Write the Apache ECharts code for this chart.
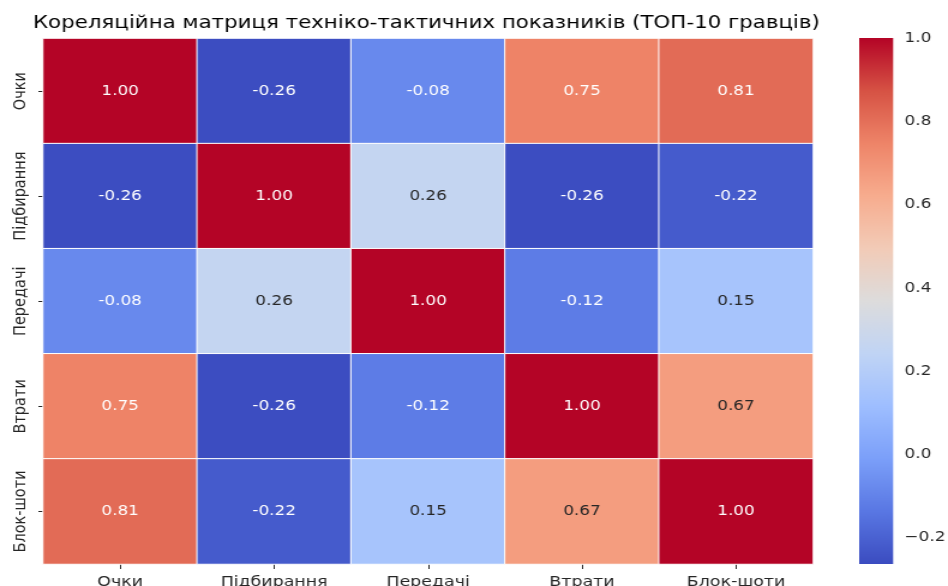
<!DOCTYPE html>
<html><head><meta charset="utf-8">
<script src="https://cdn.jsdelivr.net/npm/echarts@6/dist/echarts.min.js"></script>
<style>
html,body{margin:0;padding:0;background:#fff;overflow:hidden;}
#wrap{width:948px;height:586px;overflow:hidden;}
#chart{width:790px;height:586px;transform:scaleX(1.2);transform-origin:0 0;}
</style></head><body><div id="wrap"><div id="chart"></div></div>
<script>
// ---- data ----
const categories = ['Очки', 'Підбирання', 'Передачі', 'Втрати', 'Блок-шоти'];
const rowOchky      = [1.00, -0.26, -0.08, 0.75, 0.81];
const rowPidbyr     = [-0.26, 1.00, 0.26, -0.26, -0.22];
const rowPeredachi  = [-0.08, 0.26, 1.00, -0.12, 0.15];
const rowVtraty     = [0.75, -0.26, -0.12, 1.00, 0.67];
const rowBlokShoty  = [0.81, -0.22, 0.15, 0.67, 1.00];
const colorbarTicks = [-0.2, 0.0, 0.2, 0.4, 0.6, 0.8, 1.0];
const vmin = -0.263, vmax = 1.0;
const titleText = 'Кореляційна матриця техніко-тактичних показників (ТОП-10 гравців)';

const rows = [rowOchky, rowPidbyr, rowPeredachi, rowVtraty, rowBlokShoty];
const coolwarm = ['#3b4cc0','#5977e3','#7b9ff9','#9ebeff','#c0d4f5','#dddcdc','#f2cbb7','#f7ac8e','#ee8468','#d65244','#b40426'];

function hexToRgb(h){return [parseInt(h.substr(1,2),16),parseInt(h.substr(3,2),16),parseInt(h.substr(5,2),16)];}
function cmap(v){
  let t=(v-vmin)/(vmax-vmin); t=Math.max(0,Math.min(1,t));
  const p=t*(coolwarm.length-1); const i=Math.min(Math.floor(p),coolwarm.length-2); const f=p-i;
  const a=hexToRgb(coolwarm[i]), b=hexToRgb(coolwarm[i+1]);
  return a.map((c,k)=>c+(b[k]-c)*f);
}
function lum(rgb){
  const l=rgb.map(c=>{c/=255;return c<=0.03928?c/12.92:Math.pow((c+0.055)/1.055,2.4);});
  return 0.2126*l[0]+0.7152*l[1]+0.0722*l[2];
}
const heatData=[];
rows.forEach((r,y)=>r.forEach((v,x)=>{
  heatData.push({value:[x,y,v],label:{color: lum(cmap(v))>0.408?'#262626':'#ffffff'}});
}));
const fmtMinus=v=>{const s=(Math.round(v*10)/10).toFixed(1);return s.replace('-','\u2212');};

const chart=echarts.init(document.getElementById('chart'));
chart.setOption({
  animation:false,
  textStyle:{fontFamily:'DejaVu Sans'},
  title:{text:titleText,left:27.5,top:14,padding:0,textStyle:{fontSize:17.8,fontWeight:'normal',color:'#000',fontFamily:'DejaVu Sans'}},
  grid:[
    {left:36,width:641.5,top:38.5,bottom:22,containLabel:false,outerBoundsMode:'none'},
    {left:716,width:28.3,top:38,bottom:22,containLabel:false,outerBoundsMode:'none'}
  ],
  xAxis:[
    {type:'category',data:categories,gridIndex:0,position:'bottom',
     axisLine:{show:false},axisTick:{show:true,alignWithLabel:true,length:5,lineStyle:{color:'#262626'}},
     axisLabel:{margin:11,fontSize:14.5,color:'#262626',interval:0},splitLine:{show:false}},
    {type:'value',gridIndex:1,min:0,max:1,show:false}
  ],
  yAxis:[
    {type:'category',data:categories,gridIndex:0,inverse:true,
     axisLine:{show:false},axisTick:{show:true,alignWithLabel:true,length:4,lineStyle:{color:'#262626'}},
     axisLabel:{margin:11,fontSize:14.5,color:'#262626',rotate:90,interval:0},splitLine:{show:false}},
    {type:'value',gridIndex:1,min:vmin,max:vmax,position:'right',
     axisLine:{show:false},
     axisTick:{show:true,length:4,customValues:colorbarTicks,lineStyle:{color:'#262626'}},
     axisLabel:{margin:9.5,fontSize:14,color:'#262626',customValues:colorbarTicks,formatter:fmtMinus},
     splitLine:{show:false}}
  ],
  visualMap:{type:'continuous',show:false,min:vmin,max:vmax,dimension:2,seriesIndex:0,inRange:{color:coolwarm}},
  series:[
    {type:'heatmap',xAxisIndex:0,yAxisIndex:0,data:heatData,
     itemStyle:{borderColor:'#ffffff',borderWidth:1},
     label:{show:true,fontSize:14,formatter:p=>p.value[2].toFixed(2)},
     emphasis:{disabled:true}},
    {type:'custom',xAxisIndex:1,yAxisIndex:1,data:[[0,vmin,vmax]],encode:{x:0,y:[1,2]},
     renderItem:function(params,api){
       const top=api.coord([0,api.value(2)]), bot=api.coord([1,api.value(1)]);
       const stops=coolwarm.map((c,i)=>({offset:i/(coolwarm.length-1),color:c}));
       return {type:'rect',shape:{x:top[0],y:top[1],width:bot[0]-top[0],height:bot[1]-top[1]},
         style:{fill:new echarts.graphic.LinearGradient(0,1,0,0,stops)}};
     }}
  ]
});
</script></body></html>
